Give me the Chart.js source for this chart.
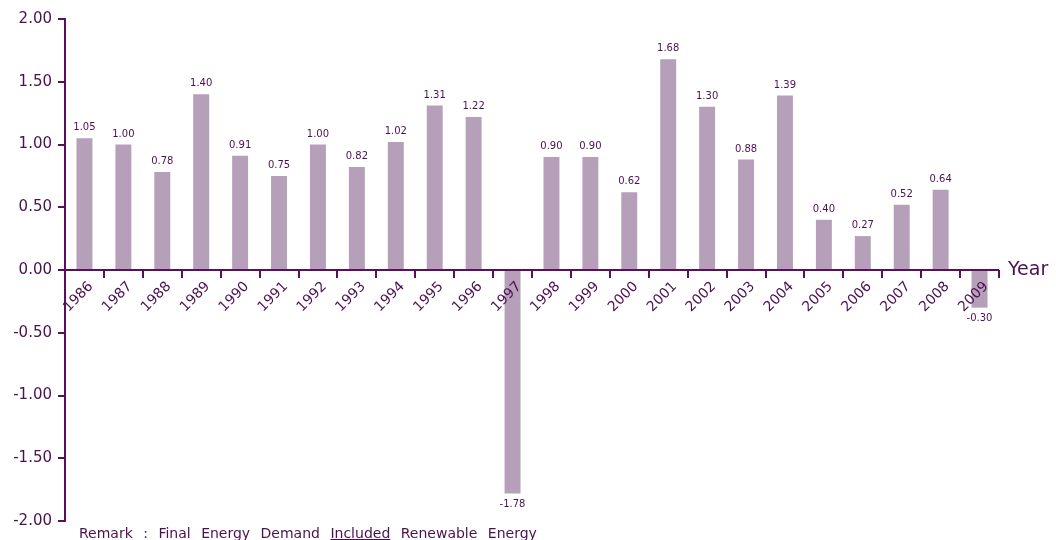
<!DOCTYPE html>
<html lang="en">
<head>
    <meta charset="UTF-8">
    <title>Final Energy Demand Growth</title>
    <script src="https://cdn.jsdelivr.net/npm/chart.js"></script>
    <style>
        body { margin: 0; background: #fff; }
        .wrap { position: relative; width: 1056px; height: 540px; }
        .remark {
            position: absolute; left: 79px; top: 525px;
            font: 14px "DejaVu Sans", sans-serif; color: #4b1050;
            word-spacing: 6px; white-space: nowrap;
        }
    </style>
</head>
<body>
    <div class="wrap">
        <canvas id="grafico" width="1056" height="540"></canvas>
        <div class="remark">Remark : Final Energy Demand <u>Included</u> Renewable Energy</div>
    </div>

    <script>
        const anos = ["1986", "1987", "1988", "1989", "1990", "1991", "1992", "1993", "1994", "1995", "1996", "1997",
                      "1998", "1999", "2000", "2001", "2002", "2003", "2004", "2005", "2006", "2007", "2008", "2009"];
        const valores = [1.05, 1.00, 0.78, 1.40, 0.91, 0.75, 1.00, 0.82, 1.02, 1.31, 1.22, -1.78,
                         0.90, 0.90, 0.62, 1.68, 1.30, 0.88, 1.39, 0.40, 0.27, 0.52, 0.64, -0.30];
        const yMin = -2, yMax = 2, yStep = 0.5;
        const tituloX = "Year";

        const corEixo = "#5a0f5e";
        const corTexto = "#4b1050";
        const corBarra = "#b59fb9";

        // eixo X no zero, rótulos inclinados e valores das barras
        const eixoPlugin = {
            id: "eixoX",
            afterDatasetsDraw(chart) {
                const ctx = chart.ctx;
                const area = chart.chartArea;
                const x = chart.scales.x;
                const y = chart.scales.y;
                const y0 = y.getPixelForValue(0);
                const larg = (area.right - area.left) / anos.length;

                ctx.save();
                ctx.strokeStyle = corEixo;
                ctx.lineWidth = 2;
                ctx.beginPath();
                ctx.moveTo(area.left, y0);
                ctx.lineTo(area.right, y0);
                for (let i = 1; i <= anos.length; i++) {
                    const px = Math.round(area.left + i * larg);
                    ctx.moveTo(px, y0);
                    ctx.lineTo(px, y0 + 8);
                }
                ctx.stroke();

                ctx.fillStyle = corTexto;
                ctx.font = "14px 'DejaVu Sans'";
                ctx.textAlign = "center";
                ctx.textBaseline = "middle";
                anos.forEach((ano, i) => {
                    const cx = x.getPixelForValue(i) - 6;
                    ctx.save();
                    ctx.translate(cx, y0 + 27);
                    ctx.rotate(-Math.PI / 4);
                    ctx.fillText(ano, 0, 0);
                    ctx.restore();
                });

                ctx.font = "19px 'DejaVu Sans'";
                ctx.textAlign = "left";
                ctx.fillText(tituloX, area.right + 9, y0);

                // valores das barras
                const meta = chart.getDatasetMeta(0);
                ctx.font = "10px 'DejaVu Sans'";
                ctx.textAlign = "center";
                meta.data.forEach((bar, i) => {
                    const v = valores[i];
                    if (v >= 0) {
                        ctx.textBaseline = "alphabetic";
                        ctx.fillText(v.toFixed(2), bar.x, bar.y - 8);
                    } else {
                        ctx.textBaseline = "top";
                        ctx.fillText(v.toFixed(2), bar.x, bar.y + 6);
                    }
                });
                ctx.restore();
            }
        };

        new Chart(document.getElementById("grafico"), {
            type: "bar",
            data: {
                labels: anos,
                datasets: [{
                    data: valores,
                    backgroundColor: corBarra,
                    borderWidth: 0,
                    barPercentage: 0.41,
                    categoryPercentage: 1
                }]
            },
            options: {
                responsive: false,
                animation: false,
                layout: { padding: { top: 19, bottom: 19, left: 0, right: 57 } },
                plugins: { legend: { display: false }, tooltip: { enabled: false } },
                scales: {
                    x: { display: false, offset: true },
                    y: {
                        min: yMin,
                        max: yMax,
                        afterFit(scale) { scale.width = 65; },
                        ticks: {
                            stepSize: yStep,
                            padding: 6,
                            color: corTexto,
                            font: { family: "DejaVu Sans", size: 15 },
                            callback: v => v.toFixed(2)
                        },
                        grid: {
                            drawOnChartArea: false,
                            drawTicks: true,
                            tickLength: 7,
                            color: corEixo,
                            lineWidth: 2
                        },
                        border: { display: true, color: corEixo, width: 2 }
                    }
                }
            },
            plugins: [eixoPlugin]
        });
    </script>
</body>
</html>
